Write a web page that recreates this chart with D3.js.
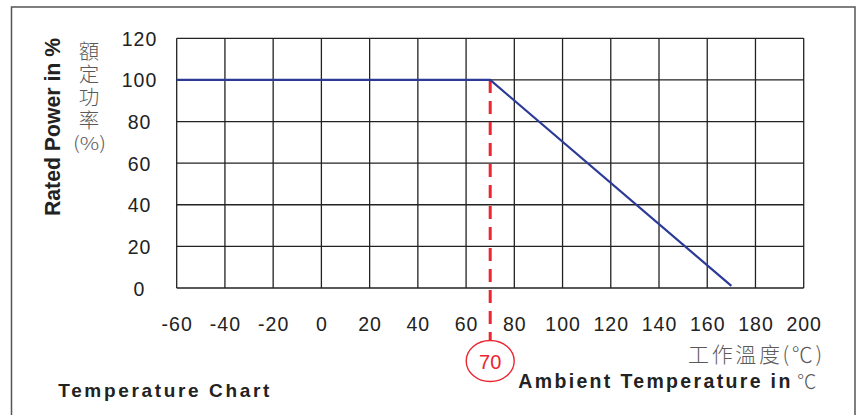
<!DOCTYPE html>
<html>
<head>
<meta charset="utf-8">
<script src="https://d3js.org/d3.v7.min.js"></script>
<style>
  body { margin: 0; background: #fff; }
  svg { display: block; }
  .tick text { font-family: "Liberation Sans", Arial, sans-serif; fill: #222; }
  .cjk { font-family: "Noto Sans CJK TC", "Noto Sans CJK SC", sans-serif; fill: #5a5a5a; font-weight: 300; }
  .bold { font-family: "Liberation Sans", Arial, sans-serif; font-weight: bold; fill: #222; }
</style>
</head>
<body>
<svg id="chart"></svg>
<script>
// derating curve
const temps = [-60, 70, 170];
const power = [100, 100, 1];
const kneeTemp = 70;

const xTicks = [-60, -40, -20, 0, 20, 40, 60, 80, 100, 120, 140, 160, 180, 200];
const yTicks = [0, 20, 40, 60, 80, 100, 120];

const width = 859, height = 415;

const svg = d3.select("#chart")
    .attr("width", width)
    .attr("height", height);

// frame around the whole picture (bottom runs off the image)
svg.append("rect")
    .attr("x", 11.5).attr("y", 7)
    .attr("width", 843.5).attr("height", 430)
    .attr("fill", "none")
    .attr("stroke", "#555")
    .attr("stroke-width", 1.5);

const x = d3.scaleLinear().domain([-60, 200]).range([176.7, 803.7]);
const y = d3.scaleLinear().domain([0, 120]).range([288, 38.3]);

// grid
const grid = svg.append("g").attr("stroke", "#222").attr("stroke-width", 1.3);
grid.selectAll("line.v")
    .data(xTicks).enter().append("line")
    .attr("class", "v")
    .attr("x1", d => x(d)).attr("x2", d => x(d))
    .attr("y1", y(0)).attr("y2", y(120));
grid.selectAll("line.h")
    .data(yTicks).enter().append("line")
    .attr("class", "h")
    .attr("x1", x(-60)).attr("x2", x(200))
    .attr("y1", d => y(d)).attr("y2", d => y(d));

// x tick labels (plain hyphen for negatives)
const xAxis = svg.append("g")
    .attr("transform", "translate(0," + y(0) + ")")
    .call(d3.axisBottom(x).tickValues(xTicks).tickSize(0).tickFormat(d => String(d)));
xAxis.select(".domain").remove();
xAxis.selectAll("text")
    .attr("y", 42.5).attr("dy", null)
    .style("font-size", "19.5px")
    .style("letter-spacing", "1px");

// y tick labels
const yAxis = svg.append("g")
    .attr("transform", "translate(139.5,0)")
    .call(d3.axisLeft(y).tickValues(yTicks).tickSize(0).tickPadding(0));
yAxis.select(".domain").remove();
yAxis.selectAll("text")
    .attr("x", 0).attr("dy", "0.36em")
    .attr("text-anchor", "middle")
    .style("font-size", "19.5px")
    .style("letter-spacing", "1px");

// red dashed marker at knee
svg.append("line")
    .attr("x1", x(kneeTemp)).attr("x2", x(kneeTemp))
    .attr("y1", y(100)).attr("y2", 340)
    .attr("stroke", "#ec2530")
    .attr("stroke-width", 3)
    .attr("stroke-dasharray", "13,8");

svg.append("ellipse")
    .attr("cx", x(kneeTemp)).attr("cy", 361)
    .attr("rx", 24).attr("ry", 20.5)
    .attr("fill", "#fff")
    .attr("stroke", "#ec2530")
    .attr("stroke-width", 1.4);

svg.append("text")
    .attr("x", x(kneeTemp)).attr("y", 369.3)
    .attr("text-anchor", "middle")
    .attr("font-family", "Liberation Sans, Arial, sans-serif")
    .attr("font-size", 20)
    .attr("fill", "#ec2530")
    .text(kneeTemp);

// derating line
const line = d3.line().x(d => x(d[0])).y(d => y(d[1]));
svg.append("path")
    .datum(temps.map((t, i) => [t, power[i]]))
    .attr("d", line)
    .attr("fill", "none")
    .attr("stroke", "#2b3a97")
    .attr("stroke-width", 2.2);

// y title
svg.append("text")
    .attr("class", "bold")
    .attr("transform", "translate(59.5,127) rotate(-90)")
    .attr("text-anchor", "middle")
    .attr("font-size", 22)
    .attr("textLength", 178)
    .attr("lengthAdjust", "spacingAndGlyphs")
    .text("Rated Power in %");

// chinese y title, stacked vertically
svg.append("text")
    .attr("class", "cjk")
    .attr("x", 89).attr("y", 40.5)
    .style("writing-mode", "vertical-rl")
    .style("letter-spacing", "2.6px")
    .attr("font-size", 20.5)
    .text("額定功率");
svg.append("text")
    .attr("class", "cjk")
    .attr("x", 89.5).attr("y", 150)
    .attr("text-anchor", "middle")
    .attr("font-size", 18)
    .attr("textLength", 33)
    .attr("lengthAdjust", "spacingAndGlyphs")
    .text("(%)");

// x titles
svg.append("text")
    .attr("class", "cjk")
    .attr("x", 688).attr("y", 361.5)
    .attr("font-size", 21)
    .attr("textLength", 134)
    .attr("lengthAdjust", "spacing")
    .text("工作溫度(℃)");

const amb = svg.append("text")
    .attr("x", 518.3).attr("y", 388.3);
amb.append("tspan")
    .attr("class", "bold")
    .attr("font-size", 19.5)
    .attr("textLength", 272)
    .attr("lengthAdjust", "spacing")
    .text("Ambient Temperature in");
amb.append("tspan")
    .attr("class", "cjk")
    .attr("x", 797)
    .attr("dy", 1)
    .attr("font-size", 19.5)
    .text("℃");

svg.append("text")
    .attr("class", "bold")
    .attr("x", 58.3).attr("y", 396.7)
    .attr("font-size", 19)
    .attr("textLength", 211)
    .attr("lengthAdjust", "spacing")
    .text("Temperature Chart");
</script>
</body>
</html>
